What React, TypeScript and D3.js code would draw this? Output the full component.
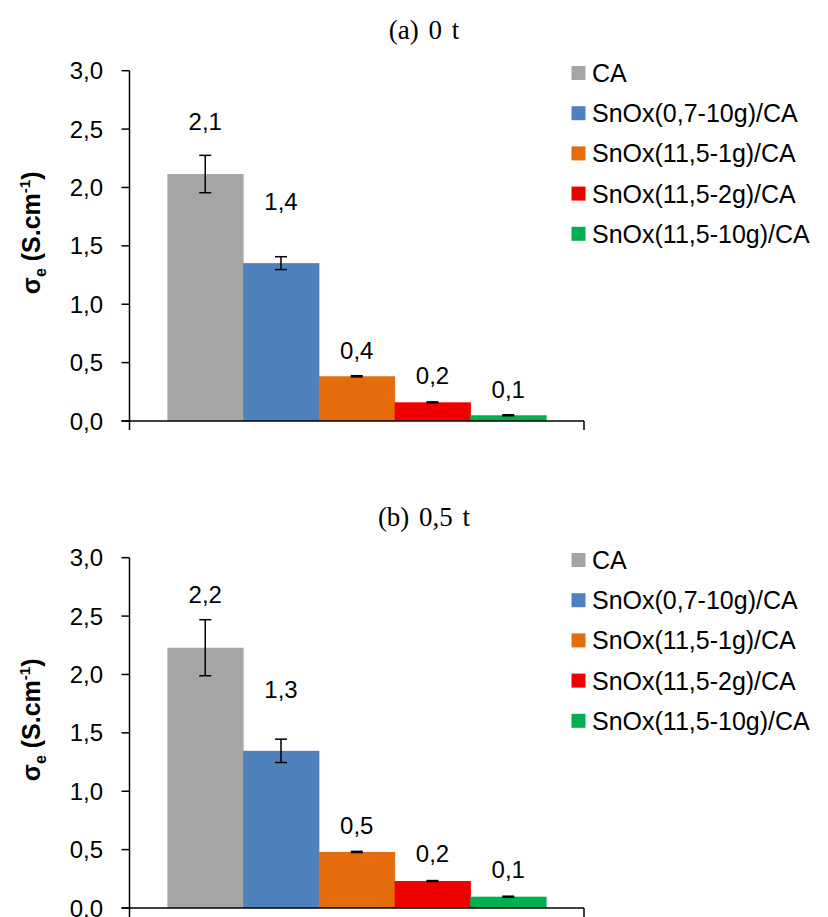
import React from "react";
import * as d3 from "d3";

const categories = [
  "CA",
  "SnOx(0,7-10g)/CA",
  "SnOx(11,5-1g)/CA",
  "SnOx(11,5-2g)/CA",
  "SnOx(11,5-10g)/CA",
];
const palette = ["#A5A5A5", "#4F81BD", "#E46C0A", "#EE0000", "#00B050"];

const titleA = "(a) 0 t";
const valuesA = [2.115, 1.352, 0.383, 0.16, 0.049];
const errorsA = [0.16, 0.055, 0.005, 0.004, 0.004];
const labelsA = ["2,1", "1,4", "0,4", "0,2", "0,1"];
const labelAtA = [2.49, 1.806, 0.528, 0.314, 0.194];

const titleB = "(b) 0,5 t";
const valuesB = [2.229, 1.346, 0.48, 0.231, 0.097];
const errorsB = [0.24, 0.1, 0.005, 0.004, 0.004];
const labelsB = ["2,2", "1,3", "0,5", "0,2", "0,1"];
const labelAtB = [2.61, 1.797, 0.634, 0.39, 0.254];

const yTicks = [0, 0.5, 1, 1.5, 2, 2.5, 3];
const yMax = 3;

const sans = "'Liberation Sans', Arial, sans-serif";
const serif = "'Liberation Serif', 'Times New Roman', serif";

type PanelProps = {
  offset: number;
  title: string;
  values: number[];
  errors: number[];
  labels: string[];
  labelAt: number[];
};

function Panel({ offset, title, values, errors, labels, labelAt }: PanelProps) {
  const x0 = 129.5;
  const x1 = 584;
  const yBottom = 421 + offset;
  const yTop = 70.7 + offset;
  const x = d3.scaleBand<string>().domain(categories).range([x0, x1]).paddingInner(0).paddingOuter(0.5);
  const y = d3.scaleLinear().domain([0, yMax]).range([yBottom, yTop]);
  const fmt = (v: number) => d3.format(".1f")(v).replace(".", ",");
  const bw = x.bandwidth();
  const cap = 6;
  return (
    <g>
      <text x={424} y={39 + offset} textAnchor="middle" fontFamily={serif} fontSize={27} wordSpacing={3}>
        {title}
      </text>
      {categories.map((c, i) => (
        <rect key={c} x={x(c)!} y={y(values[i])} width={bw + 0.5} height={yBottom - y(values[i])} fill={palette[i]} />
      ))}
      {categories.map((c, i) => {
        const cx = x(c)! + bw / 2;
        const hi = y(values[i] + errors[i]);
        const lo = y(values[i] - errors[i]);
        return (
          <g key={c + "e"} stroke="#000" strokeWidth={1.5}>
            <line x1={cx} x2={cx} y1={hi} y2={lo} />
            <line x1={cx - cap} x2={cx + cap} y1={hi} y2={hi} />
            <line x1={cx - cap} x2={cx + cap} y1={lo} y2={lo} />
          </g>
        );
      })}
      {categories.map((c, i) => (
        <text key={c + "l"} x={x(c)! + bw / 2} y={y(labelAt[i])} textAnchor="middle" fontFamily={sans} fontSize={24}>
          {labels[i]}
        </text>
      ))}
      <g stroke="#000" strokeWidth={1.5} fill="none">
        <line x1={x0} x2={x0} y1={yTop} y2={yBottom + 9} />
        <line x1={x0 - 8} x2={x1} y1={yBottom} y2={yBottom} />
        <line x1={x1} x2={x1} y1={yBottom} y2={yBottom + 9} />
        {yTicks.map((t) => (
          <line key={t} x1={x0 - 8} x2={x0} y1={y(t)} y2={y(t)} />
        ))}
      </g>
      {yTicks.map((t) => (
        <text key={"t" + t} x={103} y={y(t)} dy="0.36em" textAnchor="end" fontFamily={sans} fontSize={24}>
          {fmt(t)}
        </text>
      ))}
      <text
        transform={`translate(40,${(yTop + yBottom) / 2 - 13}) rotate(-90)`}
        textAnchor="middle"
        fontFamily={sans}
        fontSize={25}
        fontWeight="bold"
      >
        σ<tspan fontSize={16} dy={6}>e</tspan>
        <tspan dy={-6}> (S.cm</tspan>
        <tspan fontSize={15} dy={-10}>-1</tspan>
        <tspan dy={10}>)</tspan>
      </text>
      {categories.map((c, i) => {
        const ly = 73 + offset + i * 40.2;
        return (
          <g key={c + "lg"}>
            <rect x={571.5} y={ly - 7} width={14} height={14} fill={palette[i]} />
            <text x={592} y={ly} dy="0.36em" fontFamily={sans} fontSize={25}>
              {c}
            </text>
          </g>
        );
      })}
    </g>
  );
}

export default function App() {
  return (
    <svg
      width={828}
      height={917}
      style={{ position: "absolute", left: 0, top: 0, background: "#fff" }}
    >
      <rect width={828} height={917} fill="#fff" />
      <Panel offset={0} title={titleA} values={valuesA} errors={errorsA} labels={labelsA} labelAt={labelAtA} />
      <Panel offset={487} title={titleB} values={valuesB} errors={errorsB} labels={labelsB} labelAt={labelAtB} />
    </svg>
  );
}
